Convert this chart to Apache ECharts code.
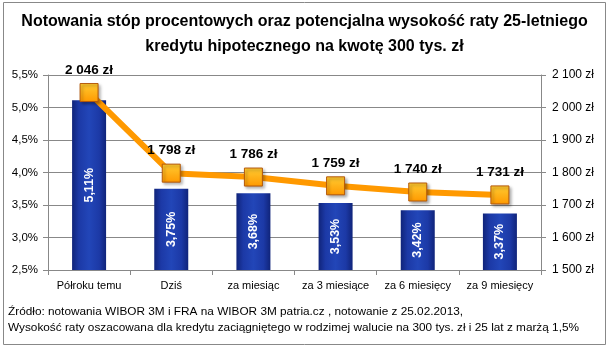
<!DOCTYPE html>
<html><head><meta charset="utf-8">
<script src="https://cdn.jsdelivr.net/npm/echarts@6/dist/echarts.min.js"></script>
<style>html,body{margin:0;padding:0;background:#fff}#c{width:609px;height:350px}</style>
</head><body><div id="c"></div>
<script>
const categories = ['Półroku temu', 'Dziś', 'za miesiąc', 'za 3 miesiące', 'za 6 miesięcy', 'za 9 miesięcy'];
const rates = [5.11, 3.75, 3.68, 3.53, 3.42, 3.37];
const installments = [2046, 1798, 1786, 1759, 1740, 1731];
const titleLines = ['Notowania stóp procentowych oraz potencjalna wysokość raty 25-letniego', 'kredytu hipotecznego na kwotę 300 tys. zł'];
const footLines = ['Źródło: notowania WIBOR 3M i FRA na WIBOR 3M patria.cz , notowanie z 25.02.2013,', 'Wysokość raty oszacowana dla kredytu zaciągniętego w rodzimej walucie na 300 tys. zł i 25 lat z marżą 1,5%'];

const font = 'Liberation Sans';
function pln(v){ const s = String(Math.round(v)); return (s.length>3 ? s.slice(0,s.length-3)+' '+s.slice(-3) : s) + ' zł'; }
function pct(v, d){ return v.toFixed(d).replace('.', ',') + '%'; }

const chart = echarts.init(document.getElementById('c'), null, {renderer:'canvas'});
chart.setOption({
  animation:false,
  backgroundColor:'#fff',
  title:{
    text: titleLines.join('\n'), left:'center', top:4,
    textStyle:{fontFamily:font, fontSize:16, fontWeight:'bold', color:'#000', lineHeight:25}
  },
  graphic:[
    {type:'rect', shape:{x:3.5,y:2.5,width:602,height:342}, style:{fill:'none', stroke:'#888', lineWidth:1}},
    {type:'text', left:8, top:304, style:{text: footLines.join('\n'), font:'11.8px '+font, fill:'#000', lineHeight:16}}
  ],
  grid:{left:48, right:68, top:75, height:195},
  xAxis:{
    type:'category', data:categories,
    axisLine:{lineStyle:{color:'#888'}},
    axisTick:{show:true, length:5, lineStyle:{color:'#888'}},
    axisLabel:{interval:0, fontFamily:font, fontSize:11, color:'#000', margin:10}
  },
  yAxis:[
    {type:'value', min:2.5, max:5.5, interval:0.5, position:'left',
     axisLine:{show:true, lineStyle:{color:'#888'}},
     axisTick:{show:true, length:5, lineStyle:{color:'#888'}},
     splitLine:{lineStyle:{color:'#888'}},
     axisLabel:{fontFamily:font, fontSize:11.5, color:'#000', margin:10, formatter:v=>pct(v,1)}},
    {type:'value', min:1500, max:2100, interval:100, position:'right',
     axisLine:{show:true, lineStyle:{color:'#888'}},
     axisTick:{show:true, length:5, lineStyle:{color:'#888'}},
     splitLine:{show:false},
     axisLabel:{fontFamily:font, fontSize:12, color:'#000', margin:11, formatter:v=>pln(v)}}
  ],
  series:[
    {type:'bar', yAxisIndex:0, data:rates, barWidth:34,
     itemStyle:{color:new echarts.graphic.LinearGradient(0,0,1,0,[
        {offset:0,color:'#10247a'},{offset:0.2,color:'#1c39a6'},{offset:0.5,color:'#2246b8'},{offset:0.8,color:'#1c39a6'},{offset:1,color:'#10247a'}])},
     label:{show:true, position:'inside', rotate:90, color:'#fff', fontFamily:font, fontSize:12.5, fontWeight:'bold', formatter:p=>pct(p.value,2)}},
    {type:'line', yAxisIndex:1, data:installments, symbol:'rect', symbolSize:18,
     lineStyle:{color:'#FF9900', width:6},
     itemStyle:{color:new echarts.graphic.LinearGradient(0,0,0,1,[{offset:0,color:'#FFCC33'},{offset:1,color:'#FF9900'}]), borderColor:'#B4580A', borderWidth:1,
       shadowColor:'rgba(0,0,0,0.35)', shadowBlur:3, shadowOffsetX:2, shadowOffsetY:2},
     label:{show:true, position:'top', distance:6, color:'#000', fontFamily:font, fontSize:13.5, fontWeight:'bold', formatter:p=>pln(p.value)},
     z:5}
  ]
});
</script></body></html>
